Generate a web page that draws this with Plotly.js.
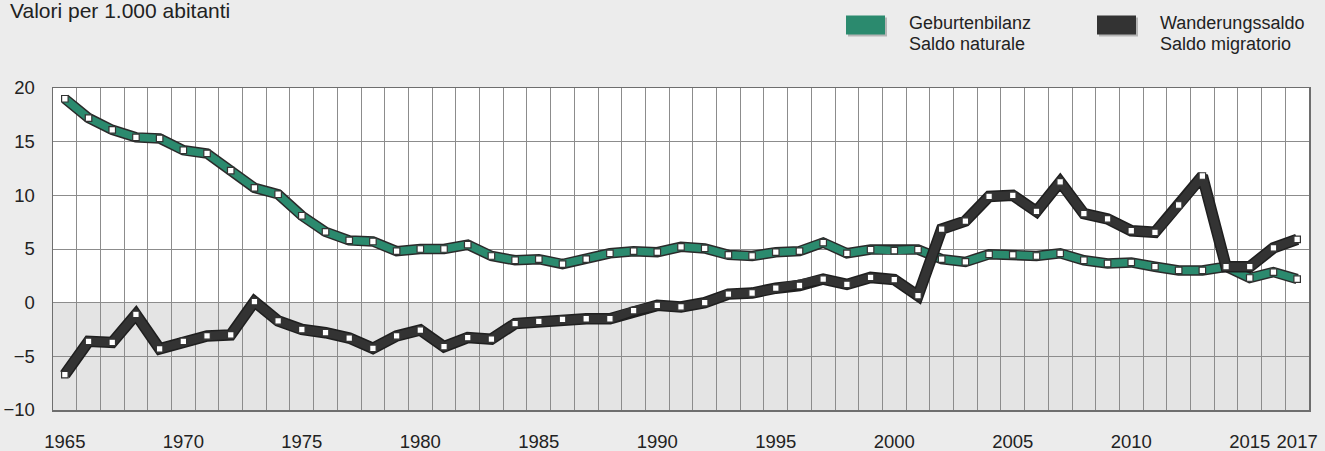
<!DOCTYPE html>
<html>
<head>
<meta charset="utf-8">
<script src="https://cdn.plot.ly/plotly-3.0.1.min.js"></script>
<style>
html,body{margin:0;padding:0;background:#ececec;}
#chart{width:1325px;height:451px;}
</style>
</head>
<body>
<div id="chart"></div>
<script>
var years = [1965,1966,1967,1968,1969,1970,1971,1972,1973,1974,1975,1976,1977,1978,1979,1980,1981,1982,1983,1984,1985,1986,1987,1988,1989,1990,1991,1992,1993,1994,1995,1996,1997,1998,1999,2000,2001,2002,2003,2004,2005,2006,2007,2008,2009,2010,2011,2012,2013,2014,2015,2016,2017];
var saldoNaturale = [19.0,17.2,16.1,15.4,15.3,14.2,13.9,12.3,10.7,10.1,8.1,6.6,5.8,5.7,4.8,5.0,5.0,5.4,4.35,3.95,4.05,3.6,4.05,4.6,4.8,4.7,5.2,5.05,4.45,4.35,4.7,4.8,5.6,4.6,4.95,4.85,4.95,4.05,3.8,4.5,4.45,4.35,4.6,3.95,3.65,3.75,3.35,3.0,3.0,3.35,2.3,2.85,2.2];
var saldoMigratorio = [-6.7,-3.6,-3.7,-1.1,-4.3,-3.6,-3.1,-3.0,0.1,-1.7,-2.5,-2.8,-3.3,-4.25,-3.1,-2.55,-4.1,-3.25,-3.4,-1.95,-1.75,-1.55,-1.5,-1.5,-0.75,-0.25,-0.4,0.0,0.8,0.9,1.35,1.6,2.2,1.7,2.35,2.15,0.65,6.85,7.6,9.9,10.0,8.5,11.25,8.3,7.8,6.7,6.55,9.1,11.8,3.35,3.35,5.1,5.9];
var xTickVals = [1965,1970,1975,1980,1985,1990,1995,2000,2005,2010,2015,2017];
var xTickText = ['1965','1970','1975','1980','1985','1990','1995','2000','2005','2010','2015','2017'];
var yTickVals = [-10,-5,0,5,10,15,20];

var green = '#2b8a6e';
var dark = '#333333';

var traces = [
  {x: years, y: saldoNaturale, mode:'lines', line:{color:'#2a2a2a', width:10.5}, hoverinfo:'skip', showlegend:false},
  {x: years, y: saldoNaturale, mode:'lines', line:{color:green, width:7.5}, showlegend:false},
  {x: years, y: saldoMigratorio, mode:'lines', line:{color:'#1f1f1f', width:11.5}, hoverinfo:'skip', showlegend:false},
  {x: years, y: saldoMigratorio, mode:'lines', line:{color:dark, width:8.5}, showlegend:false},
  {x: years, y: saldoNaturale, mode:'markers', marker:{symbol:'square', size:6.5, color:'#ffffff', line:{color:'#333', width:1.2}}, showlegend:false},
  {x: years, y: saldoMigratorio, mode:'markers', marker:{symbol:'square', size:6.5, color:'#ffffff', line:{color:'#333', width:1.2}}, showlegend:false}
];

function px(x){ return (x-53)/1256; }
function py(y){ return (410-y)/322.5; }

var layout = {
  width:1325, height:451,
  paper_bgcolor:'#ececec', plot_bgcolor:'#ffffff',
  margin:{l:53, r:16, t:87.5, b:41, pad:0},
  font:{family:'Liberation Sans, Arial, sans-serif', color:'#222', size:18.5},
  title:{text:'Valori per 1.000 abitanti', x:10/1325, xanchor:'left', y:1-3/451, yanchor:'top', xref:'container', yref:'container', font:{size:21, color:'#222'}},
  xaxis:{range:[1964.5,2017.5], tickmode:'array', tickvals:xTickVals, ticktext:xTickText, showgrid:false, zeroline:false,
         ticks:'', ticklabelstandoff:14, showline:true, mirror:true, linecolor:'#6e6e6e', linewidth:1.5,
         minor:{tickmode:'linear', tick0:1965.5, dtick:1, showgrid:true, gridcolor:'#8c8c8c', gridwidth:1, ticks:''}},
  yaxis:{range:[-10,20], tickmode:'array', tickvals:yTickVals, showgrid:true, gridcolor:'#8c8c8c', gridwidth:1, zeroline:false,
         ticks:'', ticklabelstandoff:13, showline:true, mirror:true, linecolor:'#6e6e6e', linewidth:1.5},
  shapes:[
    {type:'rect', xref:'x domain', yref:'y', x0:0, x1:1, y0:-10, y1:0, fillcolor:'#e4e4e4', line:{width:0}, layer:'below'},
    {type:'rect', xref:'paper', yref:'paper', x0:px(848), x1:px(887), y0:py(36), y1:py(17), fillcolor:'#b5b5b5', line:{width:0}},
    {type:'rect', xref:'paper', yref:'paper', x0:px(846), x1:px(885), y0:py(34), y1:py(15), fillcolor:green, line:{width:0}},
    {type:'rect', xref:'paper', yref:'paper', x0:px(1099), x1:px(1138), y0:py(36), y1:py(17), fillcolor:'#b5b5b5', line:{width:0}},
    {type:'rect', xref:'paper', yref:'paper', x0:px(1097), x1:px(1136), y0:py(34), y1:py(15), fillcolor:dark, line:{width:0}}
  ],
  annotations:[
    {text:'Geburtenbilanz', xref:'paper', yref:'paper', x:px(907), y:py(22), xanchor:'left', yanchor:'middle', showarrow:false, font:{size:18}},
    {text:'Saldo naturale', xref:'paper', yref:'paper', x:px(907), y:py(43), xanchor:'left', yanchor:'middle', showarrow:false, font:{size:18}},
    {text:'Wanderungssaldo', xref:'paper', yref:'paper', x:px(1158), y:py(22), xanchor:'left', yanchor:'middle', showarrow:false, font:{size:18}},
    {text:'Saldo migratorio', xref:'paper', yref:'paper', x:px(1158), y:py(43), xanchor:'left', yanchor:'middle', showarrow:false, font:{size:18}}
  ],
  showlegend:false
};

Plotly.newPlot('chart', traces, layout, {staticPlot:true, displayModeBar:false});
</script>
</body>
</html>
